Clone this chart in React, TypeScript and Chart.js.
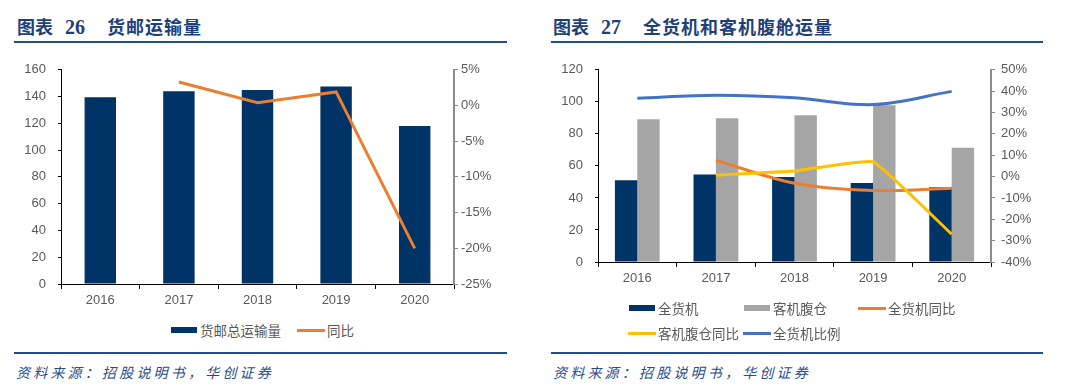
import React, { useEffect, useRef } from "react";
import { Chart, registerables } from "chart.js";

Chart.register(...registerables);

// ---------- data ----------
const years = ["2016", "2017", "2018", "2019", "2020"];

// Chart 26
const mailCargoVolume = [139.5, 144, 145, 147.5, 118];
const mailCargoYoY = [null, 3.3, 0.4, 1.9, -20];

// Chart 27
const freighterVolume = [51, 54.6, 53, 49.4, 46.6];
const bellyVolume = [89.1, 89.7, 91.7, 97.8, 71.3];
const freighterYoY = [null, 7.6, -3.1, -6.5, -5.5];
const bellyYoY = [null, 0.7, 2.6, 6.9, -27];
const freighterShare = [36.7, 38.1, 36.9, 33.7, 39.9];

const NAVY = "#003366";
const GREY = "#A5A5A5";
const ORANGE = "#ED7D31";
const YELLOW = "#FFC000";
const BLUE = "#4472C4";
const TEXT = "#595959";
const TITLE_BLUE = "#1F3F7A";

const tickFont = { family: "'Liberation Sans', Arial, sans-serif", size: 13 };

function makeScales(opts: {
  leftMax: number;
  leftStep: number;
  rightMin: number;
  rightMax: number;
  rightStep: number;
  leftW: number;
  rightW: number;
  xH: number;
  rightPad: number;
}) {
  return {
    x: {
      type: "category" as const,
      offset: true,
      grid: { offset: true, drawOnChartArea: false, tickLength: 5, color: "#000" },
      border: { display: true, color: "#000", width: 1 },
      ticks: { color: TEXT, font: tickFont, padding: 4, maxRotation: 0 },
      afterFit: (s: any) => {
        s.height = opts.xH;
      },
    },
    y: {
      type: "linear" as const,
      position: "left" as const,
      min: 0,
      max: opts.leftMax,
      grid: { drawOnChartArea: false, tickLength: 3, color: "#000" },
      border: { display: true, color: "#000", width: 1 },
      ticks: { stepSize: opts.leftStep, color: TEXT, font: tickFont, padding: 12 },
      afterFit: (s: any) => {
        s.width = opts.leftW;
      },
    },
    y1: {
      type: "linear" as const,
      position: "right" as const,
      min: opts.rightMin,
      max: opts.rightMax,
      grid: { drawOnChartArea: false, tickLength: 4, color: "#8C8C8C", lineWidth: 1 },
      border: { display: true, color: "#8C8C8C", width: 2 },
      ticks: {
        stepSize: opts.rightStep,
        color: TEXT,
        font: tickFont,
        padding: opts.rightPad,
        callback: (v: any) => `${v}%`,
      },
      afterFit: (s: any) => {
        s.width = opts.rightW;
      },
    },
  };
}

function ChartCanvas({ config, width, height, left, top }: any) {
  const ref = useRef<HTMLCanvasElement | null>(null);
  useEffect(() => {
    if (!ref.current) return;
    const chart = new Chart(ref.current, config);
    return () => chart.destroy();
  }, []);
  return (
    <canvas
      ref={ref}
      width={width}
      height={height}
      style={{ position: "absolute", left, top, width, height }}
    />
  );
}

const leftConfig: any = {
  type: "bar",
  data: {
    labels: years,
    datasets: [
      {
        type: "line",
        label: "同比",
        data: mailCargoYoY,
        borderColor: ORANGE,
        backgroundColor: ORANGE,
        borderWidth: 3,
        pointRadius: 0,
        tension: 0,
        yAxisID: "y1",
        order: 0,
        spanGaps: false,
      },
      {
        type: "bar",
        label: "货邮总运输量",
        data: mailCargoVolume,
        backgroundColor: NAVY,
        barPercentage: 0.4,
        categoryPercentage: 1,
        yAxisID: "y",
        order: 1,
      },
    ],
  },
  options: {
    responsive: false,
    animation: false,
    devicePixelRatio: 1,
    layout: { padding: { top: 12, left: 0, right: 0, bottom: 0 } },
    plugins: { legend: { display: false }, tooltip: { enabled: false } },
    scales: makeScales({
      leftMax: 160,
      leftStep: 20,
      rightMin: -25,
      rightMax: 5,
      rightStep: 5,
      leftW: 61,
      rightW: 86,
      xH: 31,
      rightPad: 3,
    }),
  },
};

const rightConfig: any = {
  type: "bar",
  data: {
    labels: years,
    datasets: [
      {
        type: "bar",
        label: "全货机",
        data: freighterVolume,
        backgroundColor: NAVY,
        barPercentage: 1,
        categoryPercentage: 0.57,
        yAxisID: "y",
        order: 3,
      },
      {
        type: "bar",
        label: "客机腹仓",
        data: bellyVolume,
        backgroundColor: GREY,
        barPercentage: 1,
        categoryPercentage: 0.57,
        yAxisID: "y",
        order: 3,
      },
      {
        type: "line",
        label: "全货机同比",
        data: freighterYoY,
        borderColor: ORANGE,
        backgroundColor: ORANGE,
        borderWidth: 3,
        pointRadius: 0,
        tension: 0.35,
        yAxisID: "y1",
        order: 1,
      },
      {
        type: "line",
        label: "客机腹仓同比",
        data: bellyYoY,
        borderColor: YELLOW,
        backgroundColor: YELLOW,
        borderWidth: 3,
        pointRadius: 0,
        tension: 0.1,
        yAxisID: "y1",
        order: 0,
      },
      {
        type: "line",
        label: "全货机比例",
        data: freighterShare,
        borderColor: BLUE,
        backgroundColor: BLUE,
        borderWidth: 3,
        pointRadius: 0,
        tension: 0.35,
        yAxisID: "y1",
        order: 0,
      },
    ],
  },
  options: {
    responsive: false,
    animation: false,
    devicePixelRatio: 1,
    layout: { padding: { top: 12, left: 0, right: 0, bottom: 0 } },
    plugins: { legend: { display: false }, tooltip: { enabled: false } },
    scales: makeScales({
      leftMax: 120,
      leftStep: 20,
      rightMin: -40,
      rightMax: 50,
      rightStep: 10,
      leftW: 58,
      rightW: 89,
      xH: 38,
      rightPad: 6,
    }),
  },
};

const cjk = "'Noto Sans CJK SC', 'Noto Sans', sans-serif";

function Title({ left, num, text }: any) {
  return (
    <div
      style={{
        position: "absolute",
        left,
        top: 13,
        height: 26,
        lineHeight: "26px",
        fontSize: 18,
        fontWeight: 700,
        color: TITLE_BLUE,
        whiteSpace: "nowrap",
        fontFamily: cjk,
      }}
    >
      <span>图表</span>
      <span style={{ fontFamily: "'Liberation Serif', serif", fontSize: 20, marginLeft: 12 }}>{num}</span>
      <span style={{ marginLeft: 22, letterSpacing: 1 }}>{text}</span>
    </div>
  );
}

function Rule({ left, top, width }: any) {
  return (
    <div
      style={{ position: "absolute", left, top, width, height: 2, background: "#1F4E8C" }}
    />
  );
}

function Source({ left }: any) {
  return (
    <div
      style={{
        position: "absolute",
        left,
        top: 362,
        height: 20,
        lineHeight: "20px",
        fontSize: 14,
        fontStyle: "italic",
        letterSpacing: 3.2,
        color: "#2B4C8C",
        whiteSpace: "nowrap",
        fontFamily: cjk,
      }}
    >
      资料来源：招股说明书，华创证券
    </div>
  );
}

function LegendItem({ x, y, color, kind, label }: any) {
  const isBar = kind === "bar";
  return (
    <div style={{ position: "absolute", left: x, top: y - 10, height: 20, whiteSpace: "nowrap" }}>
      <div
        style={{
          position: "absolute",
          left: 0,
          top: isBar ? 7 : 8.5,
          width: isBar ? 26 : 28,
          height: isBar ? 6 : 3,
          background: color,
        }}
      />
      <div
        style={{
          position: "absolute",
          left: isBar ? 29 : 30,
          top: 0,
          lineHeight: "20px",
          fontSize: 13.5,
          color: TEXT,
          fontFamily: cjk,
        }}
      >
        {label}
      </div>
    </div>
  );
}

export default function App() {
  return (
    <div
      style={{
        position: "absolute",
        left: 0,
        top: 0,
        width: 1080,
        height: 392,
        background: "#fff",
        overflow: "hidden",
      }}
    >
      <Title left={17} num="26" text="货邮运输量" />
      <Title left={553} num="27" text="全货机和客机腹舱运量" />
      <Rule left={14} top={41} width={493} />
      <Rule left={551} top={41} width={492} />

      <ChartCanvas config={leftConfig} width={540} height={265} left={0} top={50} />
      <ChartCanvas config={rightConfig} width={540} height={250} left={540} top={50} />

      <LegendItem x={171} y={330} color={NAVY} kind="bar" label="货邮总运输量" />
      <LegendItem x={297} y={330} color={ORANGE} kind="line" label="同比" />

      <LegendItem x={629} y={308} color={NAVY} kind="bar" label="全货机" />
      <LegendItem x={744} y={308} color={GREY} kind="bar" label="客机腹仓" />
      <LegendItem x={858} y={308} color={ORANGE} kind="line" label="全货机同比" />
      <LegendItem x={628} y={333} color={YELLOW} kind="line" label="客机腹仓同比" />
      <LegendItem x={743} y={333} color={BLUE} kind="line" label="全货机比例" />

      <Rule left={14} top={352} width={493} />
      <Rule left={551} top={352} width={492} />
      <Source left={16} />
      <Source left={553} />
    </div>
  );
}
